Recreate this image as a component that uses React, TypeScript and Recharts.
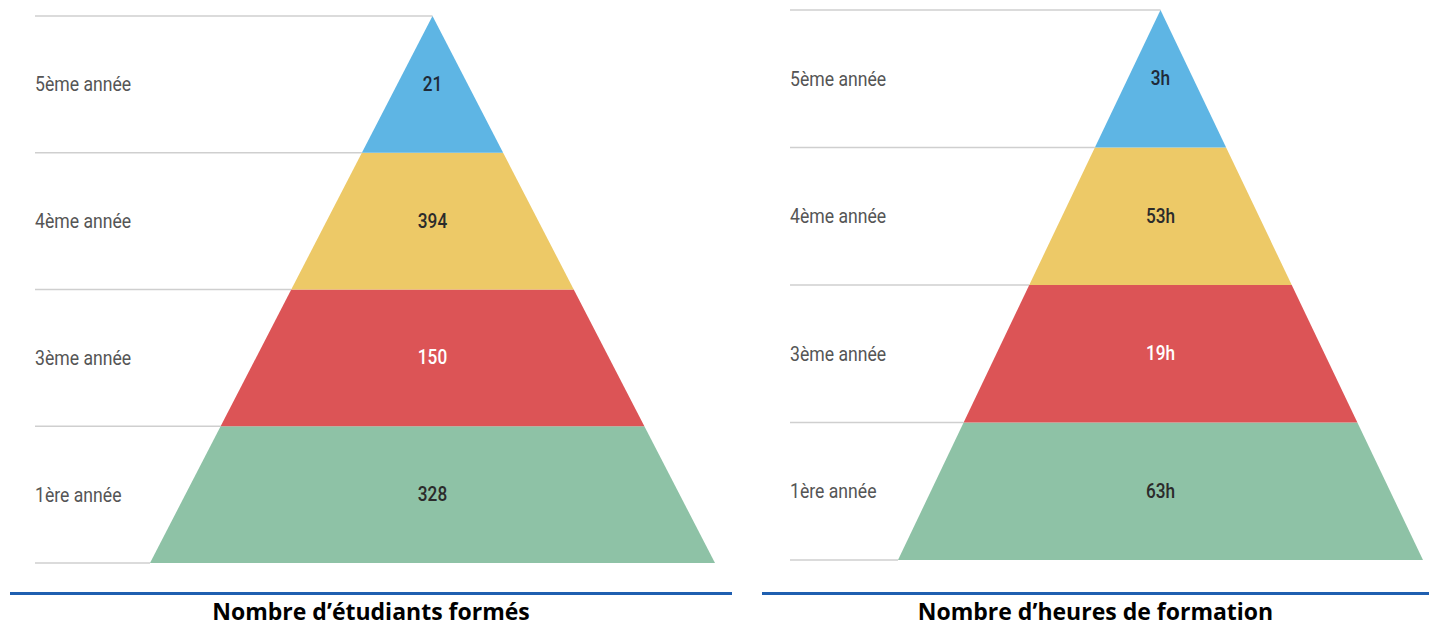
import React from "react"
import { FunnelChart, Funnel, Cell } from "recharts"

// niveaux du bas vers le haut de la pyramide
const years = ["1ère année", "3ème année", "4ème année", "5ème année"]
const tiers = [4, 3, 2, 1]
const students = [328, 150, 394, 21]
const hours = [63, 19, 53, 3]

const colors = ["#8ec2a6", "#dc5456", "#edc967", "#5eb5e4"]
const valueColors = ["#2b2b2b", "#ffffff", "#2b2b2b", "#1f2a38"]

const studentData = years.map((name, i) => ({ name, tier: tiers[i], display: String(students[i]) }))
const hourData = years.map((name, i) => ({ name, tier: tiers[i], display: `${hours[i]}h` }))

// police condensée simulée (Roboto resserré horizontalement)
const labelFont = "Roboto, 'Noto Sans', sans-serif"

function makeShape(labelX: number) {
  return (props: any) => {
    const { x, y, upperWidth, lowerWidth, height } = props
    const payload = props.payload || {}
    const name = payload.name ?? props.name
    const i = years.indexOf(name)
    const gap = (upperWidth - lowerWidth) / 2
    const d = `M${x},${y} L${x + upperWidth},${y} L${x + upperWidth - gap},${y + height} L${x + gap},${y + height} Z`
    const cx = x + upperWidth / 2
    const cy = y + height / 2
    return (
      <g>
        <line x1={labelX} y1={y} x2={x} y2={y} stroke="#cfcfcf" strokeWidth={1.5} />
        {i === 0 && (
          <line x1={labelX} y1={y + height} x2={x + gap} y2={y + height} stroke="#cfcfcf" strokeWidth={1.5} />
        )}
        <path d={d} fill={colors[i]} />
        <text
          transform={`translate(${labelX},${cy}) scale(0.84,1)`}
          dominantBaseline="central"
          fontFamily={labelFont}
          fontSize={21}
          fill="#555"
        >
          {name}
        </text>
        <text
          transform={`translate(${cx},${cy}) scale(0.86,1)`}
          textAnchor="middle"
          dominantBaseline="central"
          fontFamily={labelFont}
          fontSize={20}
          fontWeight={500}
          fill={valueColors[i]}
        >
          {payload.display}
        </text>
      </g>
    )
  }
}

function Pyramid({ data, width, height, margin, labelX }: any) {
  return (
    <FunnelChart width={width} height={height} margin={margin}>
      <Funnel
        data={data}
        dataKey="tier"
        nameKey="name"
        reversed
        lastShapeType="triangle"
        isAnimationActive={false}
        shape={makeShape(labelX)}
      >
        {data.map((_: any, i: number) => (
          <Cell key={`cell-${i}`} fill={colors[i]} />
        ))}
      </Funnel>
    </FunnelChart>
  )
}

const titleStyle: React.CSSProperties = {
  position: "absolute",
  top: 598,
  height: 26,
  lineHeight: "26px",
  fontFamily: "'Open Sans', sans-serif",
  fontWeight: 700,
  fontSize: 23,
  color: "#000",
  textAlign: "center",
  whiteSpace: "nowrap",
}

export default function App() {
  return (
    <div style={{ position: "absolute", left: 0, top: 0, width: 1429, height: 627, background: "#fff", overflow: "hidden" }}>
      <div style={{ position: "absolute", left: 0, top: 0 }}>
        <Pyramid
          data={studentData}
          width={740}
          height={580}
          margin={{ top: 16, right: 25, bottom: 17, left: 150 }}
          labelX={35}
        />
      </div>
      <div style={{ position: "absolute", left: 740, top: 0 }}>
        <Pyramid
          data={hourData}
          width={689}
          height={575}
          margin={{ top: 10, right: 6, bottom: 15, left: 158 }}
          labelX={50}
        />
      </div>

      <div style={{ position: "absolute", left: 10, top: 592, width: 722, height: 3, background: "#1f5fb0" }} />
      <div style={{ position: "absolute", left: 762, top: 592, width: 667, height: 3, background: "#1f5fb0" }} />

      <div style={{ ...titleStyle, left: 10, width: 722 }}>Nombre d’étudiants formés</div>
      <div style={{ ...titleStyle, left: 762, width: 667 }}>Nombre d’heures de formation</div>
    </div>
  )
}
